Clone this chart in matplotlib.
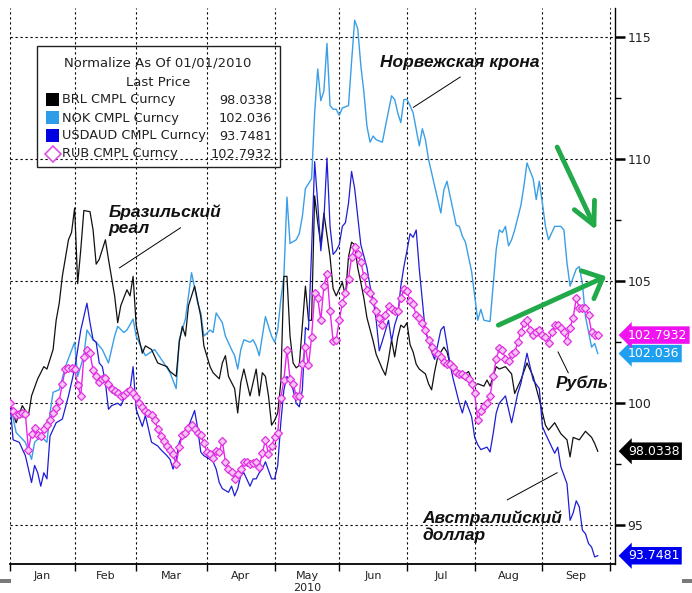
import matplotlib
matplotlib.use("Agg")
import matplotlib.pyplot as plt
import matplotlib.transforms as mtrans
from matplotlib.patches import Rectangle
from matplotlib.lines import Line2D
import pandas as pd

# ---------------- data (x = trading-day number since 01/01/2010) ----------------
MONTHS = ["Jan", "Feb", "Mar", "Apr", "May", "Jun", "Jul", "Aug", "Sep"]
YEAR_LABEL = "2010"

BRL_DAY = [0, 2, 4, 6, 7, 9, 11, 12, 14, 15, 16, 17, 19, 20, 21, 22, 23, 24, 26, 27, 28, 29, 31, 32,
           34, 35, 36, 38, 39, 40, 41, 42, 43, 44, 46, 48, 51, 52, 54, 55, 56, 57, 58, 60, 62, 63,
           65, 66, 68, 69, 70, 71, 72, 73, 74, 75, 76, 78, 79, 80, 81, 82, 83, 84, 85, 86, 87, 88,
           89, 90, 91, 92, 93, 94, 96, 97, 98, 99, 100, 101, 102, 104, 105, 106, 108, 109, 110, 111,
           112, 113, 114, 115, 116, 118, 119, 121, 122, 123, 124, 125, 126, 127, 128, 129, 130, 131,
           132, 133, 135, 136, 137, 138, 139, 140, 141, 142, 143, 144, 146, 147, 149, 150, 151, 152,
           153, 154, 155, 156, 157, 158, 159, 161, 163, 164, 166, 168, 170, 172, 174, 175, 177, 179,
           181, 182, 183, 185, 187, 189, 190, 191]
BRL = [100.0, 99.2, 99.9, 99.5, 100.3, 101.0, 101.5, 101.4, 102.2, 103.4, 104.1, 105.2, 106.7, 107.0,
       108.0, 104.9, 106.3, 107.9, 107.85, 107.1, 105.7, 105.9, 106.7, 105.9, 104.4, 103.3, 104.0,
       104.65, 104.4, 105.2, 103.2, 102.6, 102.05, 102.35, 102.2, 101.65, 101.5, 101.3, 101.1, 102.5,
       103.15, 102.75, 104.0, 104.8, 103.55, 102.35, 101.5, 101.25, 101.0, 101.65, 101.95, 101.1,
       100.85, 100.6, 99.6, 100.85, 101.4, 100.3, 100.85, 101.4, 100.3, 101.25, 101.1, 100.3, 99.1,
       99.3, 99.6, 100.85, 105.2, 105.2, 102.75, 101.65, 101.45, 101.55, 104.8, 103.4, 103.4, 108.5,
       107.4, 106.5, 107.8, 106.0, 104.7, 104.4, 104.95, 104.4, 106.0, 106.6, 106.5, 105.55, 104.95,
       104.3, 103.5, 102.55, 102.0, 101.4, 101.15, 101.8, 102.6, 101.9, 102.7, 103.2, 103.1, 103.3,
       102.4, 102.1, 101.6, 101.4, 101.2, 100.8, 100.55, 101.3, 101.9, 102.1, 102.3, 102.1, 101.6,
       101.4, 101.2, 101.1, 101.3, 101.0, 100.7, 100.8, 100.75, 100.7, 100.95, 100.7, 101.1, 101.5,
       101.4, 101.5, 101.2, 100.4, 100.95, 101.65, 101.1, 100.15, 99.1, 98.9, 99.2, 98.75, 98.5,
       97.8, 98.6, 98.5, 98.85, 98.6, 98.35, 98.03]

NOK_DAY = [0, 2, 5, 7, 8, 10, 12, 13, 14, 16, 18, 21, 22, 24, 25, 27, 28, 30, 32, 34, 35, 37, 38, 40,
           41, 43, 44, 47, 50, 52, 54, 55, 57, 58, 59, 61, 62, 63, 65, 66, 67, 69, 70, 72, 73, 74, 75,
           76, 78, 79, 80, 81, 82, 83, 85, 86, 87, 88, 89, 90, 91, 93, 94, 95, 96, 98, 99, 100, 101,
           102, 103, 104, 105, 106, 107, 108, 110, 111, 112, 113, 114, 115, 116, 117, 118, 119, 121,
           122, 124, 125, 126, 127, 128, 129, 130, 131, 133, 134, 135, 136, 137, 139, 140, 141, 142,
           143, 145, 146, 147, 148, 150, 151, 152, 153, 154, 156, 157, 158, 159, 160, 161, 162, 163,
           164, 166, 167, 168, 170, 171, 172, 173, 174, 175, 177, 179, 180, 181, 182, 184, 185, 186,
           187, 189, 190, 191]
NOK = [100.0, 98.8, 98.4, 97.7, 98.4, 98.65, 98.4, 99.6, 100.45, 100.55, 101.5, 102.5, 101.1, 101.95,
       103.0, 102.6, 102.5, 102.2, 101.65, 102.75, 103.15, 102.9, 103.0, 103.45, 102.75, 102.2, 101.95,
       102.2, 101.65, 101.25, 100.6, 102.6, 103.45, 104.4, 105.35, 104.1, 103.7, 102.75, 103.0, 102.9,
       103.7, 103.3, 102.75, 102.2, 101.95, 101.4, 102.2, 102.6, 102.5, 102.6, 102.35, 101.95, 102.75,
       103.55, 102.75, 102.5, 103.0, 104.25, 105.2, 108.45, 106.55, 106.7, 106.95, 107.65, 108.8,
       109.2, 111.9, 113.7, 112.4, 112.8, 114.75, 112.2, 112.05, 112.05, 111.8, 112.1, 112.2, 114.0,
       115.7, 115.35, 113.85, 112.75, 111.35, 110.7, 110.95, 110.8, 110.7, 111.35, 112.6, 112.45,
       111.9, 111.5, 112.45, 112.45, 112.2, 111.9, 110.55, 111.25, 110.8, 110.0, 109.45, 108.35,
       107.8, 108.75, 109.1, 108.5, 107.3, 107.25, 106.85, 106.6, 105.4, 104.4, 103.4, 103.85, 103.4,
       103.35, 104.8, 106.3, 107.1, 107.0, 107.25, 106.45, 106.7, 107.1, 108.1, 108.9, 109.85, 109.2,
       108.35, 109.1, 108.2, 107.25, 106.7, 107.25, 107.25, 107.1, 105.75, 104.8, 105.5, 105.6,
       104.9, 103.55, 102.3, 102.45, 102.04]

AUD_DAY = [0, 1, 3, 5, 7, 8, 9, 10, 11, 12, 13, 15, 17, 19, 20, 21, 22, 23, 25, 26, 27, 28, 29, 30,
           31, 32, 33, 35, 36, 38, 39, 40, 41, 43, 44, 46, 48, 49, 51, 52, 53, 54, 55, 56, 58, 60, 61,
           62, 63, 65, 66, 67, 68, 69, 71, 72, 73, 74, 75, 76, 78, 79, 80, 81, 82, 83, 85, 86, 87, 88,
           89, 90, 91, 92, 93, 94, 95, 96, 97, 98, 99, 100, 101, 102, 103, 104, 105, 106, 107, 108,
           109, 110, 111, 112, 113, 114, 116, 117, 118, 119, 120, 121, 123, 124, 125, 126, 127, 128,
           129, 130, 131, 132, 133, 134, 135, 136, 137, 138, 139, 140, 141, 142, 143, 144, 145, 146,
           147, 148, 149, 150, 151, 152, 153, 155, 156, 157, 158, 159, 161, 163, 165, 166, 168, 169,
           170, 172, 173, 174, 177, 178, 179, 181, 182, 183, 184, 185, 186, 187, 188, 189, 190, 191]
AUD = [100.0, 98.5, 98.4, 97.85, 96.75, 97.45, 97.15, 96.6, 97.15, 96.9, 98.65, 99.2, 99.35, 100.3,
       100.85, 101.4, 102.2, 103.0, 104.1, 103.3, 102.6, 102.5, 101.65, 101.5, 100.85, 99.75, 99.9,
       100.0, 99.9, 100.45, 100.55, 101.5, 99.75, 99.05, 99.5, 98.4, 98.25, 98.1, 97.85, 97.7, 97.3,
       97.7, 98.4, 98.65, 99.05, 99.7, 98.95, 98.0, 97.85, 97.7, 97.6, 97.3, 96.75, 96.5, 96.35, 96.6,
       96.2, 96.5, 97.05, 97.15, 96.6, 96.9, 96.9, 97.15, 97.3, 97.6, 96.9, 96.9, 97.45, 99.2, 100.55,
       101.1, 100.85, 100.55, 100.0, 99.85, 100.55, 103.1, 103.0, 106.25, 109.9, 108.2, 106.25, 107.5,
       110.05, 107.25, 106.1, 106.25, 106.5, 107.25, 107.4, 108.2, 109.5, 108.8, 107.65, 106.5,
       105.55, 104.8, 104.25, 103.4, 102.15, 102.55, 103.4, 102.55, 103.2, 103.6, 104.8, 105.6,
       106.25, 106.95, 106.8, 107.1, 105.5, 104.2, 102.9, 102.6, 102.1, 101.8, 102.4, 103.0, 103.15,
       102.4, 101.6, 101.0, 100.5, 100.0, 99.6, 100.1, 99.8, 99.45, 98.6, 98.3, 98.1, 98.2, 98.0,
       98.75, 99.6, 100.0, 100.3, 99.2, 100.4, 100.8, 102.05, 101.5, 100.95, 100.6, 99.05, 98.75,
       97.95, 98.2, 97.4, 96.7, 95.2, 95.5, 96.0, 95.75, 94.8, 94.65, 94.25, 94.1, 93.7, 93.75]

RUB = [100.0, 99.7, 99.5, 99.55, 99.6, 99.55, 98.1, 98.75, 99.0, 98.7, 98.65, 98.95, 99.1, 99.3,
       99.6, 99.8, 100.1, 100.8, 101.4, 101.45, 101.45, 101.4, 100.75, 100.3, 101.9, 102.2, 102.05,
       101.35, 101.1, 100.85, 101.0, 101.05, 100.8, 100.6, 100.5, 100.4, 100.3, 100.35, 100.45,
       100.55, 100.4, 100.25, 100.0, 99.85, 99.7, 99.6, 99.5, 99.3, 98.95, 98.65, 98.45, 98.25, 98.1,
       97.9, 97.5, 98.2, 98.7, 98.8, 99.0, 99.1, 98.95, 98.8, 98.7, 98.35, 98.0, 97.9, 97.75, 98.05,
       98.0, 98.45, 97.6, 97.3, 97.2, 96.9, 97.1, 97.3, 97.6, 97.6, 97.5, 97.55, 97.6, 97.4, 97.95,
       98.5, 97.9, 98.25, 98.6, 98.8, 100.2, 100.95, 102.2, 101.0, 100.8, 100.3, 100.3, 101.6, 102.3,
       101.55, 102.7, 104.5, 104.3, 103.4, 104.8, 105.3, 103.8, 102.55, 102.6, 103.4, 104.1, 104.5,
       105.1, 106.0, 106.4, 106.1, 105.8, 105.2, 104.65, 104.5, 104.2, 103.8, 103.5, 103.2, 103.6,
       104.0, 103.85, 103.8, 103.8, 104.3, 104.7, 104.6, 104.2, 104.05, 103.6, 103.5, 103.3, 103.0,
       102.6, 102.3, 102.1, 102.0, 101.9, 101.7, 101.6, 101.6, 101.5, 101.3, 101.2, 101.2, 101.1,
       101.0, 100.8, 100.4, 99.3, 99.7, 99.9, 100.0, 100.3, 101.1, 101.8, 102.25, 102.2, 101.8,
       101.75, 102.0, 102.1, 102.5, 102.9, 103.3, 103.4, 103.0, 102.8, 102.9, 103.0, 102.8, 102.7,
       102.45, 102.9, 103.2, 103.2, 103.1, 102.9, 102.55, 103.1, 103.5, 104.3, 103.9, 103.9, 103.9,
       103.6, 102.9, 102.8, 102.79]
RUB_DAY = list(range(len(RUB)))

SERIES_NAMES = ["BRL CMPL Curncy", "NOK CMPL Curncy", "USDAUD CMPL Curncy", "RUB CMPL Curncy"]
LAST_PRICE = [98.0338, 102.036, 93.7481, 102.7932]
LAST_TEXT = ["98.0338", "102.036", "93.7481", "102.7932"]

# ---------------- styling ----------------
C_BRL = "#111111"
C_NOK = "#3a9fe6"
C_AUD = "#1d1dd6"
C_RUB = "#ee22ee"
BOX_COL = ["#000000", "#1e9ff0", "#0000f0", "#f012f0"]
SWATCH = ["#000000", "#2e9de8", "#0000e0", None]
GREEN = "#22a94a"

cal = pd.bdate_range("2010-01-01", "2010-10-29")
month_start = [int((cal < pd.Timestamp(2010, m, 1)).sum()) for m in range(1, 11)]
month_mid = [(month_start[k] + month_start[k + 1]) / 2 for k in range(9)]

W, H = 692, 593
fig = plt.figure(figsize=(W / 100, H / 100), dpi=100)
fig.patch.set_facecolor("white")
ax = fig.add_axes([10 / W, 29 / H, 605 / W, 556 / H])
ax.set_xlim(0.2, 196.6)
ax.set_ylim(93.41, 116.2)

for s in ["left", "top"]:
    ax.spines[s].set_visible(False)
ax.spines["bottom"].set_linewidth(1.3)
ax.spines["right"].set_linewidth(1.0)

ax.yaxis.tick_right()
ax.set_yticks([95, 100, 105, 110, 115])
ax.set_yticks([97.5, 102.5, 107.5, 112.5], minor=True)
ax.tick_params(axis="y", which="major", direction="out", length=7, width=1.8,
               labelsize=9, pad=2, labelcolor="#222222")
ax.tick_params(axis="y", which="minor", direction="out", length=4, width=1)

ax.set_xticks(month_start)
ax.set_xticklabels([""] * len(month_start))
ax.set_xticks(month_mid, minor=True)
ax.set_xticklabels(MONTHS, minor=True)
ax.tick_params(axis="x", which="major", direction="out", length=5, width=1)
ax.tick_params(axis="x", which="minor", length=0, labelsize=8, pad=5, labelcolor="#222222")

ax.grid(True, which="major", color="black", linestyle=(0, (2, 2.5)), linewidth=0.8)
ax.set_axisbelow(True)

ax.text(month_mid[4], -0.043, YEAR_LABEL, transform=mtrans.blended_transform_factory(ax.transData, ax.transAxes),
        ha="center", va="center", fontsize=8, color="#222222")

ax.plot(NOK_DAY, NOK, color=C_NOK, lw=1.0, zorder=2)
ax.plot(BRL_DAY, BRL, color=C_BRL, lw=0.9, zorder=3)
ax.plot(AUD_DAY, AUD, color=C_AUD, lw=0.9, zorder=3)
ax.plot(RUB_DAY, RUB, color=C_RUB, lw=1.0, marker="D", ms=4, mfc="#f7c6f7", mec="#e030e0",
        mew=0.9, zorder=4)

# value tags on the right axis
blend = mtrans.blended_transform_factory(ax.transAxes, ax.transData)
for val, txt, col in zip(LAST_PRICE, LAST_TEXT, BOX_COL):
    ax.text(1.0215, val, txt, transform=blend, ha="left", va="center", color="white",
            fontsize=9, clip_on=False,
            bbox=dict(boxstyle="larrow,pad=0.18", fc=col, ec="none"))

# legend (manual, transparent box)
fig.patches.append(Rectangle((37 / W, 1 - 167 / H), 243 / W, 121 / H, fill=False,
                             ec="#222222", lw=1.0, transform=fig.transFigure, figure=fig))
fig.text(158 / W, 1 - 63 / H, "Normalize As Of 01/01/2010", ha="center", va="center",
         fontsize=9.5, color="#222222")
fig.text(158 / W, 1 - 82 / H, "Last Price", ha="center", va="center", fontsize=9.5, color="#222222")
row_y = [100, 118, 136, 154]
for k in range(4):
    y = 1 - row_y[k] / H
    if SWATCH[k] is not None:
        fig.patches.append(Rectangle((46 / W, y - 6 / H), 13 / W, 13 / H, fc=SWATCH[k], ec="none",
                                     transform=fig.transFigure, figure=fig))
    else:
        fig.lines.append(Line2D([52.5 / W], [y], marker="D", ms=8, mfc="white", mec="#e050e0",
                                mew=1.2, transform=fig.transFigure, figure=fig))
    fig.text(62 / W, y, SERIES_NAMES[k], ha="left", va="center", fontsize=9.3, color="#222222")
    fig.text(272 / W, y, LAST_TEXT[k], ha="right", va="center", fontsize=9.3, color="#222222")

# annotations
rfont = dict(family="Liberation Sans", weight="bold", style="italic", fontsize=12.5, color="#111111")
ax.text(146, 113.95, "Норвежская крона", ha="center", va="center", **rfont)
ax.plot([146.3, 131.1], [113.37, 112.13], color="black", lw=0.7, zorder=5)
ax.text(32.1, 107.5, "Бразильский\nреал", ha="left", va="center", linespacing=1.15, **rfont)
ax.plot([55.4, 35.6], [107.19, 105.55], color="black", lw=0.7, zorder=5)
ax.text(177.2, 100.83, "Рубль", ha="left", va="center", **rfont)
ax.plot([178.1, 181.4], [102.1, 101.25], color="black", lw=0.7, zorder=5)
ax.text(134.0, 94.93, "Австралийский\nдоллар", ha="left", va="center", linespacing=1.1, **rfont)
ax.plot([177.8, 161.6], [97.15, 96.04], color="black", lw=0.7, zorder=5)

# green arrows
ax.annotate("", xy=(190.5, 107.1), xytext=(177.8, 110.5),
            arrowprops=dict(arrowstyle="->,head_length=0.8,head_width=0.4", lw=3.5, color=GREEN,
                            mutation_scale=20, shrinkA=0, shrinkB=0), zorder=6)
ax.annotate("", xy=(193.7, 105.2), xytext=(158.7, 103.2),
            arrowprops=dict(arrowstyle="->,head_length=0.6,head_width=0.55", lw=3.5, color=GREEN,
                            mutation_scale=20, shrinkA=0, shrinkB=0), zorder=6, annotation_clip=False)

# small grey corner bars
fig.patches.append(Rectangle((0, 1 - 583 / H), 11 / W, 4 / H, fc="#7a7a7a", ec="none",
                             transform=fig.transFigure, figure=fig))
fig.patches.append(Rectangle((682 / W, 1 - 583 / H), 10 / W, 4 / H, fc="#7a7a7a", ec="none",
                             transform=fig.transFigure, figure=fig))

fig.savefig("out.png", dpi=100)
